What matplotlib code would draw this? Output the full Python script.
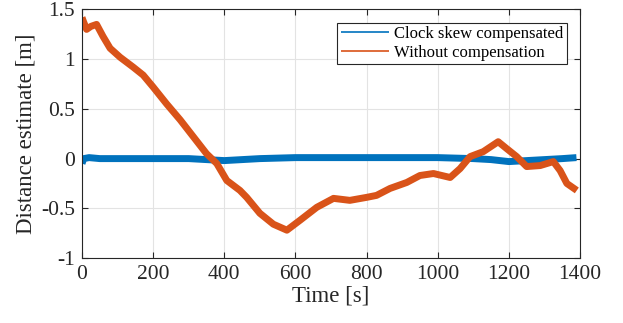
import matplotlib
matplotlib.use("Agg")
import matplotlib.pyplot as plt

# values (time in s, distance in m)
t_comp = [0, 5, 20, 50, 100, 200, 300, 350, 400, 450, 500, 600, 700, 800,
          900, 1000, 1100, 1150, 1200, 1250, 1300, 1350, 1390]
d_comp = [-0.05, 0.0, 0.01, 0.0, 0.0, 0.0, 0.0, -0.01, -0.02, -0.01, 0.0, 0.01,
          0.01, 0.01, 0.01, 0.01, 0.0, -0.01, -0.03, -0.02, -0.01, 0.0, 0.01]

t_raw = [0, 4, 13, 25, 41, 59, 79, 107, 144, 172, 200, 238, 276, 313, 350,
         379, 407, 444, 463, 500, 538, 576, 613, 660, 707, 753, 800, 828,
         866, 913, 950, 988, 1035, 1063, 1091, 1128, 1170, 1194, 1222, 1250,
         1288, 1325, 1344, 1363, 1391]
d_raw = [1.42, 1.38, 1.30, 1.33, 1.35, 1.23, 1.11, 1.02, 0.92, 0.84, 0.72,
         0.55, 0.39, 0.22, 0.05, -0.05, -0.22, -0.32, -0.39, -0.55, -0.66,
         -0.72, -0.62, -0.49, -0.40, -0.42, -0.39, -0.37, -0.30, -0.24, -0.17,
         -0.15, -0.19, -0.10, 0.02, 0.07, 0.17, 0.10, 0.02, -0.08, -0.07,
         -0.03, -0.12, -0.25, -0.32]

plt.rcParams['font.family'] = ['Liberation Serif', 'DejaVu Serif']
plt.rcParams['axes.unicode_minus'] = False

fig = plt.figure(figsize=(6.23, 3.23), dpi=100)
ax = fig.add_axes([0.1316, 0.2012, 0.7994, 0.7694])

ax.plot(t_comp, d_comp, color='#0072BD', lw=5, solid_joinstyle='round',
        solid_capstyle='butt', label='Clock skew compensated')
ax.plot(t_raw, d_raw, color='#D95319', lw=5, solid_joinstyle='round',
        solid_capstyle='butt', label='Without compensation')

ax.set_xlim(0, 1400)
ax.set_ylim(-1, 1.5)
ax.set_xticks([0, 200, 400, 600, 800, 1000, 1200, 1400])
ax.set_yticks([-1, -0.5, 0, 0.5, 1, 1.5])
ax.set_yticklabels(['-1', '-0.5', '0', '0.5', '1', '1.5'])
ax.grid(True, color='#E3E3E3', lw=0.8)
ax.set_axisbelow(True)
ax.tick_params(direction='in', top=True, right=True, labelsize=15.5,
               colors='#262626', length=4, width=0.8, pad=5)
for s in ax.spines.values():
    s.set_color('#262626')
    s.set_linewidth(0.8)

ax.set_xlabel('Time [s]', fontsize=16.5, color='#262626', labelpad=1)
ax.set_ylabel('Distance estimate [m]', fontsize=16.5, color='#262626', labelpad=3)

leg = ax.legend(loc='upper right', fontsize=12, frameon=True, fancybox=False,
                edgecolor='#262626', framealpha=1, borderaxespad=0.8,
                handlelength=2.9, handletextpad=0.3, borderpad=0.2,
                labelspacing=0.15)
leg.get_frame().set_linewidth(0.8)
for line in leg.get_lines():
    line.set_linewidth(1.2)

fig.savefig('out.png', dpi=100)
